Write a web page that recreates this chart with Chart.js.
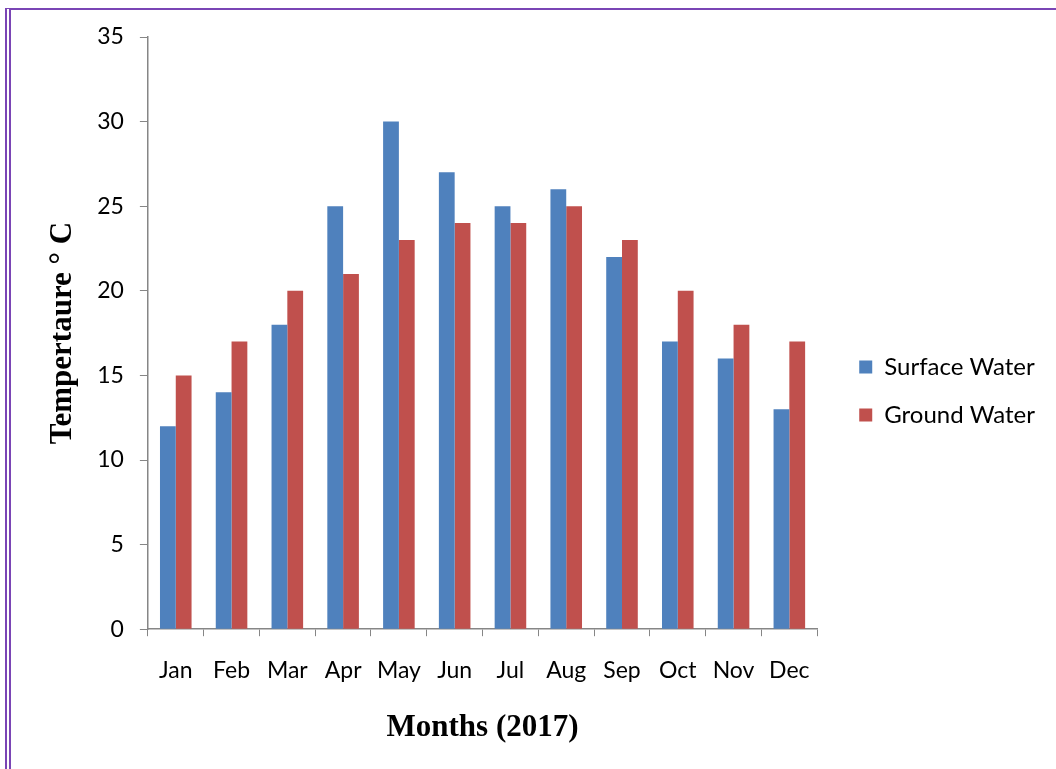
<!DOCTYPE html>
<html>
<head>
<meta charset="utf-8">
<script src="https://cdn.jsdelivr.net/npm/chart.js@4"></script>
<style>
  html, body { margin: 0; padding: 0; background: #fff; }
  #wrap { position: relative; width: 1056px; height: 769px; overflow: hidden; }
  #frame { position: absolute; left: 5px; top: 8px; width: 1100px; height: 800px;
           border-left: 6px double #7a45b5; border-top: 2px solid #7a45b5; pointer-events: none; }
  canvas { position: absolute; left: 0; top: 0; }
</style>
</head>
<body>
<div id="wrap">
  <canvas id="c" width="1056" height="769"></canvas>
  <div id="frame"></div>
</div>
<script>
const categories = ["Jan","Feb","Mar","Apr","May","Jun","Jul","Aug","Sep","Oct","Nov","Dec"];
const surfaceWater = [12,14,18,25,30,27,25,26,22,17,16,13];
const groundWater = [15,17,20,21,23,24,24,25,23,20,18,17];
const seriesNames = ["Surface Water","Ground Water"];
const yTitle = "Tempertaure \u00B0 C";
const xTitle = "Months (2017)";

const legendShift = { id: 'legendShift', afterLayout(chart) {
  const lg = chart.legend; if (!lg) return;
  const dx = 18, dy = -1;
  lg.left += dx; lg.right += dx; lg.top += dy; lg.bottom += dy;
}};

const tickFont = { family: "Lato", size: 23 };
const titleFont = { family: "Liberation Serif", size: 31, weight: 'bold' };
new Chart(document.getElementById('c'), {
  type: 'bar',
  data: {
    labels: categories,
    datasets: [
      { label: seriesNames[0], data: surfaceWater, backgroundColor: '#4f81bd', barPercentage: 1, categoryPercentage: 0.566 },
      { label: seriesNames[1], data: groundWater, backgroundColor: '#c0504d', barPercentage: 1, categoryPercentage: 0.566 }
    ]
  },
  options: {
    responsive: false,
    animation: false,
    devicePixelRatio: 1,
    layout: { padding: { left: 44, top: 37, right: 29, bottom: 22 } },
    plugins: {
      tooltip: { enabled: false },
      legend: {
        position: 'right',
        labels: { boxWidth: 13, boxHeight: 13, padding: 24, color: '#000', font: { family: "Lato", size: 24 } }
      }
    },
    scales: {
      x: {
        grid: { display: true, drawOnChartArea: false, color: '#868686', tickLength: 7, offset: true },
        border: { color: '#868686', width: 1.5 },
        ticks: { color: '#000', font: tickFont, padding: 21, maxRotation: 0 },
        title: { display: true, text: xTitle, color: '#000', font: titleFont, padding: { top: 4, bottom: 0 } }
      },
      y: {
        min: 0, max: 35,
        ticks: { stepSize: 5, color: '#000', font: tickFont, padding: 16 },
        grid: { display: true, drawOnChartArea: false, color: '#868686', tickLength: 8 },
        border: { color: '#868686', width: 1.5 },
        title: { display: true, text: yTitle, color: '#000', font: titleFont, padding: { top: 0, bottom: 0 } }
      }
    }
  },
  plugins: [legendShift]
});
</script>
</body>
</html>
